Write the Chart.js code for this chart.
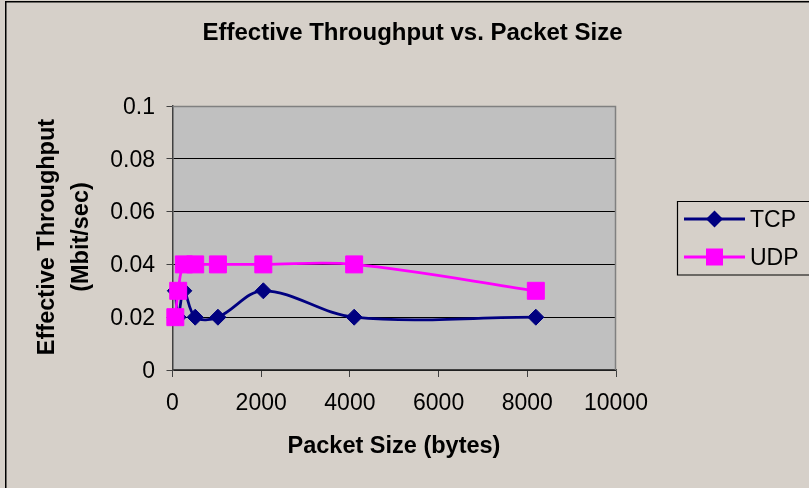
<!DOCTYPE html>
<html><head><meta charset="utf-8">
<script src="https://cdn.jsdelivr.net/npm/chart.js@4"></script>
<style>html,body{margin:0;padding:0;background:#D6D0C9;overflow:hidden}#wrap{width:809px;height:488px;position:relative;overflow:hidden}</style>
</head><body><div id="wrap"><canvas id="c" width="809" height="488"></canvas></div>
<script>
// ---- data ----
const packetSizes   = [64, 128, 256, 512, 1024, 2048, 4096, 8192];
const tcpThroughput = [0.03, 0.02, 0.03, 0.02, 0.02, 0.03, 0.02, 0.02];
const udpThroughput = [0.02, 0.03, 0.04, 0.04, 0.04, 0.04, 0.04, 0.03];
const xTicks = [0, 2000, 4000, 6000, 8000, 10000];
const xTickLabels = ['0', '2000', '4000', '6000', '8000', '10000'];
const yTicks = [0, 0.02, 0.04, 0.06, 0.08, 0.1];
const yTickLabels = ['0', '0.02', '0.04', '0.06', '0.08', '0.1'];
const seriesNames = ['TCP', 'UDP'];
const chartTitle = 'Effective Throughput vs. Packet Size';
const xTitle = 'Packet Size (bytes)';
const yTitle = ['Effective Throughput', '(Mbit/sec)'];

// ---- style ----
const FONT = '"Liberation Sans", Arial, sans-serif';
const BG = '#D6D0C9';
const PLOT_BG = '#C0C0C0';
const TCP_COLOR = '#000080';
const UDP_COLOR = '#FF00FF';
const AXIS_COLOR = '#404040';

function diamond(ctx, x, y, r, color) {
  ctx.beginPath();
  ctx.moveTo(x, y - r); ctx.lineTo(x + r, y); ctx.lineTo(x, y + r); ctx.lineTo(x - r, y);
  ctx.closePath(); ctx.fillStyle = color; ctx.fill();
}
function square(ctx, x, y, s, color) {
  ctx.fillStyle = color; ctx.fillRect(x - s / 2, y - s / 2, s, s);
}

const decor = {
  id: 'decor',
  beforeDraw(chart) {
    const { ctx, chartArea: a } = chart;
    ctx.save();
    ctx.fillStyle = BG; ctx.fillRect(0, 0, chart.width, chart.height);
    ctx.fillStyle = PLOT_BG; ctx.fillRect(a.left, a.top, a.right - a.left, a.bottom - a.top);
    ctx.restore();
  },
  beforeDatasetsDraw(chart) {
    const { ctx, chartArea: a } = chart;
    ctx.save();
    ctx.strokeStyle = '#808080'; ctx.lineWidth = 1.5;
    ctx.beginPath();
    ctx.moveTo(a.left, a.top + 0.5); ctx.lineTo(a.right - 0.5, a.top + 0.5); ctx.lineTo(a.right - 0.5, a.bottom);
    ctx.stroke();
    ctx.restore();
  },
  afterDraw(chart) {
    const { ctx } = chart;
    ctx.save();
    ctx.fillStyle = '#000';
    ctx.textAlign = 'center'; ctx.textBaseline = 'alphabetic';
    ctx.font = 'bold 24px ' + FONT;
    ctx.fillText(chartTitle, 412.5, 40);
    ctx.font = 'bold 23.5px ' + FONT;
    ctx.fillText(xTitle, 394, 453);
    const yBase = [53.5, 87.5];
    yTitle.forEach((t, i) => {
      ctx.save(); ctx.translate(yBase[i], 237); ctx.rotate(-Math.PI / 2);
      ctx.fillText(t, 0, 0); ctx.restore();
    });
    // legend (box runs off the right edge, as in the reference)
    ctx.fillStyle = BG; ctx.fillRect(677.5, 201.5, 400, 73.5);
    ctx.strokeStyle = '#000'; ctx.lineWidth = 1.2;
    ctx.beginPath();
    ctx.moveTo(1100, 201.5); ctx.lineTo(677.5, 201.5); ctx.lineTo(677.5, 275); ctx.lineTo(1100, 275);
    ctx.stroke();
    const rows = [219, 257];
    const cols = [TCP_COLOR, UDP_COLOR];
    rows.forEach((y, i) => {
      ctx.strokeStyle = cols[i]; ctx.lineWidth = 3;
      ctx.beginPath(); ctx.moveTo(684, y); ctx.lineTo(745, y); ctx.stroke();
      if (i === 0) diamond(ctx, 714.5, y, 8.5, cols[i]); else square(ctx, 714.5, y, 17, cols[i]);
      ctx.fillStyle = '#000'; ctx.font = '23px ' + FONT; ctx.textAlign = 'left';
      ctx.fillText(seriesNames[i], 750, y + 8.3);
    });
    // outer chart border (left and top edges visible)
    ctx.strokeStyle = '#000'; ctx.lineWidth = 1.5;
    ctx.beginPath();
    ctx.moveTo(5.75, 1000); ctx.lineTo(5.75, 1.75); ctx.lineTo(1000, 1.75);
    ctx.stroke();
    ctx.restore();
  }
};

new Chart(document.getElementById('c'), {
  type: 'line',
  data: {
    datasets: [
      {
        label: seriesNames[0],
        data: packetSizes.map((x, i) => ({ x, y: tcpThroughput[i] })),
        borderColor: TCP_COLOR, backgroundColor: TCP_COLOR, borderWidth: 2.75,
        pointStyle: 'rectRot', pointRadius: 8, pointBorderWidth: 1,
        pointBackgroundColor: TCP_COLOR, pointBorderColor: TCP_COLOR,
        tension: 0.35, clip: false, order: 1, fill: false
      },
      {
        label: seriesNames[1],
        data: packetSizes.map((x, i) => ({ x, y: udpThroughput[i] })),
        borderColor: UDP_COLOR, backgroundColor: UDP_COLOR, borderWidth: 2.75,
        pointStyle: 'rect', pointRadius: 12, pointBorderWidth: 1,
        pointBackgroundColor: UDP_COLOR, pointBorderColor: UDP_COLOR,
        tension: 0.35, clip: false, order: 0, fill: false
      }
    ]
  },
  options: {
    responsive: false, animation: false, devicePixelRatio: 1,
    layout: { padding: { top: 106, right: 193, left: 0, bottom: 0 } },
    plugins: { legend: { display: false }, title: { display: false }, tooltip: { enabled: false } },
    scales: {
      x: {
        type: 'linear', min: 0, max: 10000,
        afterBuildTicks: s => { s.ticks = xTicks.map(v => ({ value: v })); },
        afterFit: s => { s.height = 118; },
        ticks: { callback: (v, i) => xTickLabels[i], font: { family: FONT, size: 23 }, color: '#000', padding: 13, maxRotation: 0, autoSkip: false },
        grid: { drawOnChartArea: false, drawTicks: true, tickLength: 7, tickColor: AXIS_COLOR, tickWidth: 1 },
        border: { color: AXIS_COLOR, width: 1.5 }
      },
      y: {
        min: 0, max: 0.1,
        afterBuildTicks: s => { s.ticks = yTicks.map(v => ({ value: v })); },
        afterFit: s => { s.width = 172.5; },
        ticks: { callback: (v, i) => yTickLabels[i], font: { family: FONT, size: 23 }, color: '#000', padding: 11.5, labelOffset: 1.5 },
        grid: { color: '#000', lineWidth: 1, drawTicks: true, tickLength: 6, tickColor: AXIS_COLOR },
        border: { color: AXIS_COLOR, width: 1.5 }
      }
    }
  },
  plugins: [decor]
});
</script>
</body></html>
